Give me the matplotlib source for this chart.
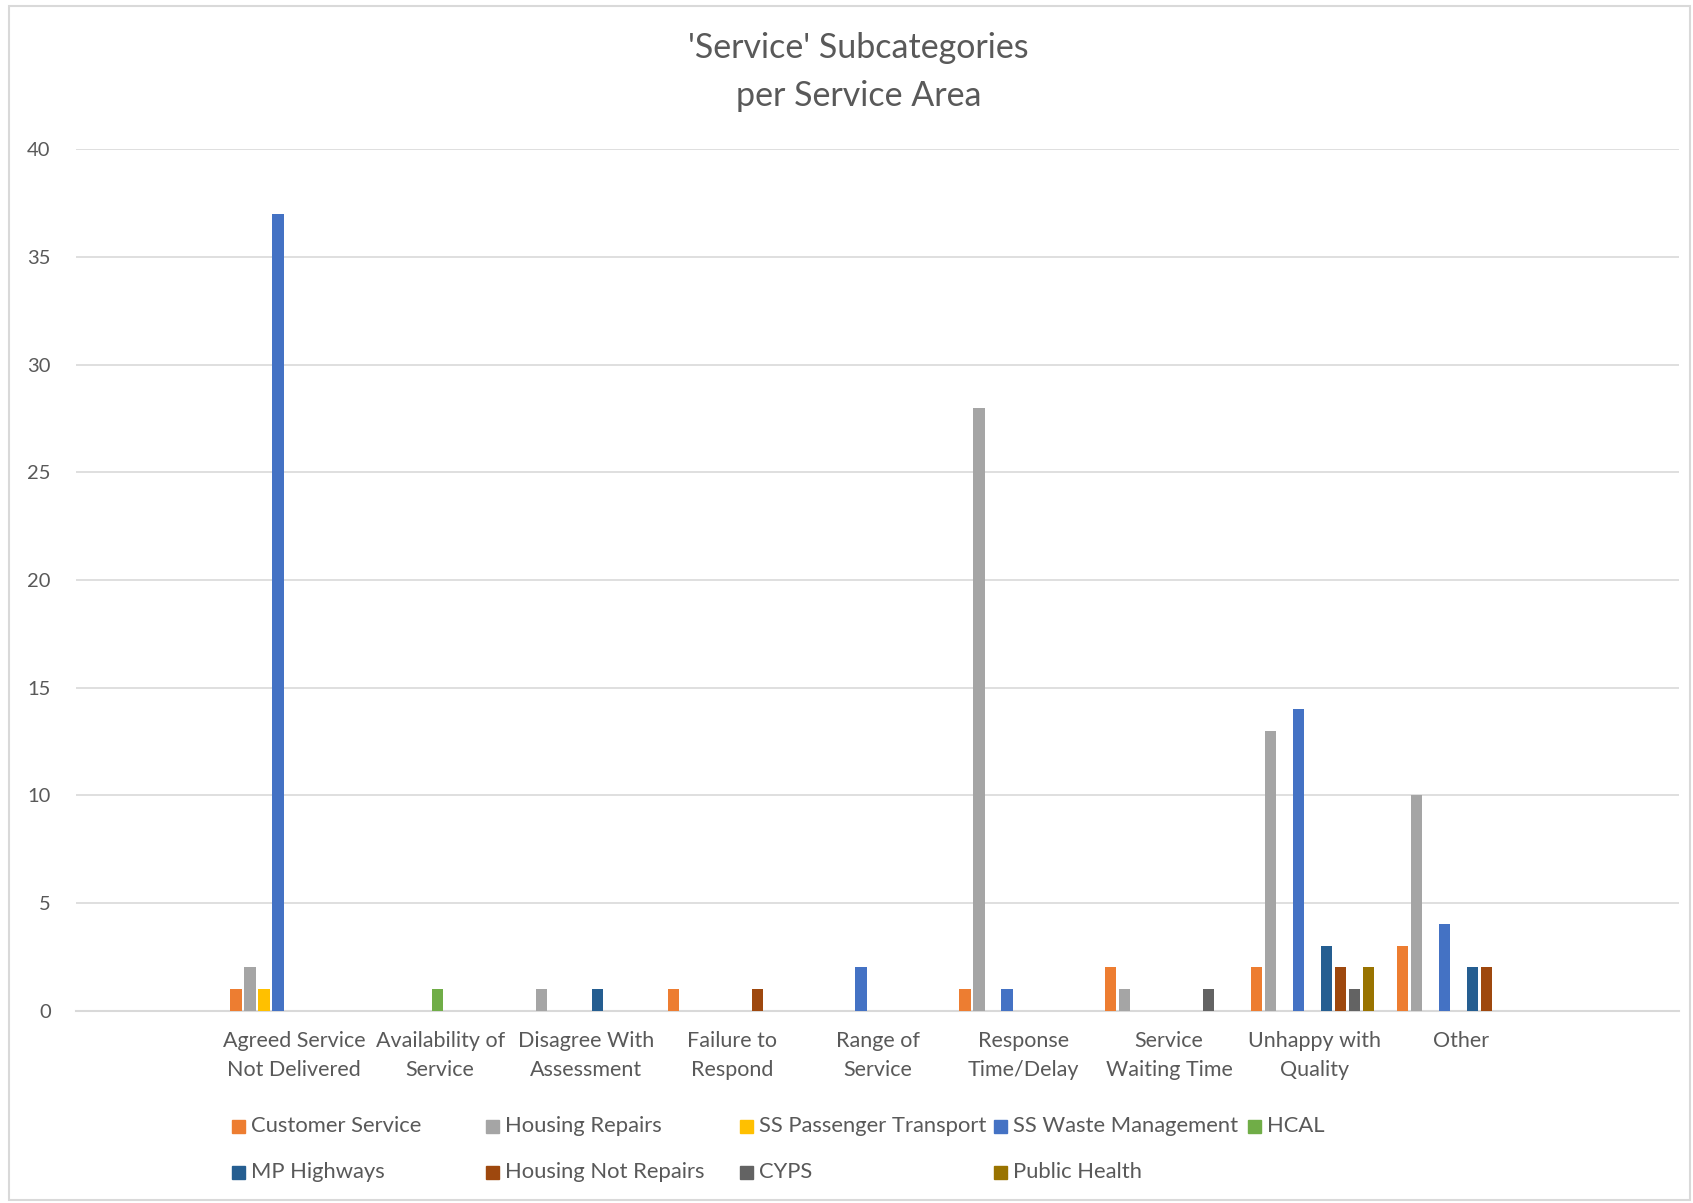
import matplotlib.pyplot as plt
from matplotlib.patches import Rectangle

# data
categories = ["Agreed Service\nNot Delivered", "Availability of\nService", "Disagree With\nAssessment",
              "Failure to\nRespond", "Range of\nService", "Response\nTime/Delay",
              "Service\nWaiting Time", "Unhappy with\nQuality", "Other"]

series_names = ["Customer Service", "Housing Repairs", "SS Passenger Transport", "SS Waste Management",
                "HCAL", "MP Highways", "Housing Not Repairs", "CYPS", "Public Health"]

customer_service = [1, 0, 0, 1, 0, 1, 2, 2, 3]
housing_repairs = [2, 0, 1, 0, 0, 28, 1, 13, 10]
ss_passenger_transport = [1, 0, 0, 0, 0, 0, 0, 0, 0]
ss_waste_management = [37, 0, 0, 0, 2, 1, 0, 14, 4]
hcal = [0, 1, 0, 0, 0, 0, 0, 0, 0]
mp_highways = [0, 0, 1, 0, 0, 0, 0, 3, 2]
housing_not_repairs = [0, 0, 0, 1, 0, 0, 0, 2, 2]
cyps = [0, 0, 0, 0, 0, 0, 1, 1, 0]
public_health = [0, 0, 0, 0, 0, 0, 0, 2, 0]

colors = ["#ED7D31", "#A5A5A5", "#FFC000", "#4472C4", "#70AD47",
          "#255E91", "#9E480E", "#636363", "#997300"]

all_series = [customer_service, housing_repairs, ss_passenger_transport, ss_waste_management,
              hcal, mp_highways, housing_not_repairs, cyps, public_health]

plt.rcParams['font.family'] = ['Lato', 'DejaVu Sans']
text_color = "#595959"
grid_color = "#D9D9D9"

fig = plt.figure(figsize=(16.93, 12.03), dpi=100)
ax = fig.add_axes([0.0447, 0.160, 0.9473, 0.716])

step = 0.096
width = 0.079
shift = -0.017
x = list(range(len(categories)))
for j, (vals, col) in enumerate(zip(all_series, colors)):
    xs = [i + (j - 4) * step + shift for i in x]
    ax.bar(xs, vals, width=width, color=col, linewidth=0, label=series_names[j], zorder=3)

ax.set_xlim(-1.5, len(categories) + 0.5)
ax.set_ylim(0, 40)
ax.set_yticks(range(0, 41, 5))
ax.set_xticks(x)
ax.set_xticklabels(categories, fontsize=15.5, color=text_color, linespacing=1.52)
ax.tick_params(axis='x', length=0, pad=15)
ax.tick_params(axis='y', length=0, pad=18, labelsize=14.5, labelcolor=text_color)
ax.grid(axis='y', color=grid_color, linewidth=1.2, zorder=0)
for s in ['top', 'right', 'left']:
    ax.spines[s].set_visible(False)
ax.spines['bottom'].set_color(grid_color)
ax.spines['bottom'].set_linewidth(1.5)

fig.text(0.507, 0.940, "'Service' Subcategories\nper Service Area", ha='center', va='center',
         fontsize=24.5, color=text_color, linespacing=1.6)

# legend laid out on a fixed grid like the original
W, H = 1693, 1203
for i, (name, col) in enumerate(zip(series_names, colors)):
    r, c = divmod(i, 5)
    px = 232 + c * 254
    py = 1126 + r * 46
    fig.patches.append(Rectangle((px / W, 1 - (py + 6.5) / H), 13 / W, 13 / H,
                                 transform=fig.transFigure, color=col))
    fig.text((px + 19) / W, 1 - py / H, name, ha='left', va='center', fontsize=15.8, color=text_color)

# chart border
fig.patches.append(Rectangle((9 / W, 3 / H), (1681) / W, (1194) / H, transform=fig.transFigure,
                             fill=False, edgecolor=grid_color, linewidth=1.5))

fig.savefig("out.png", dpi=100)
